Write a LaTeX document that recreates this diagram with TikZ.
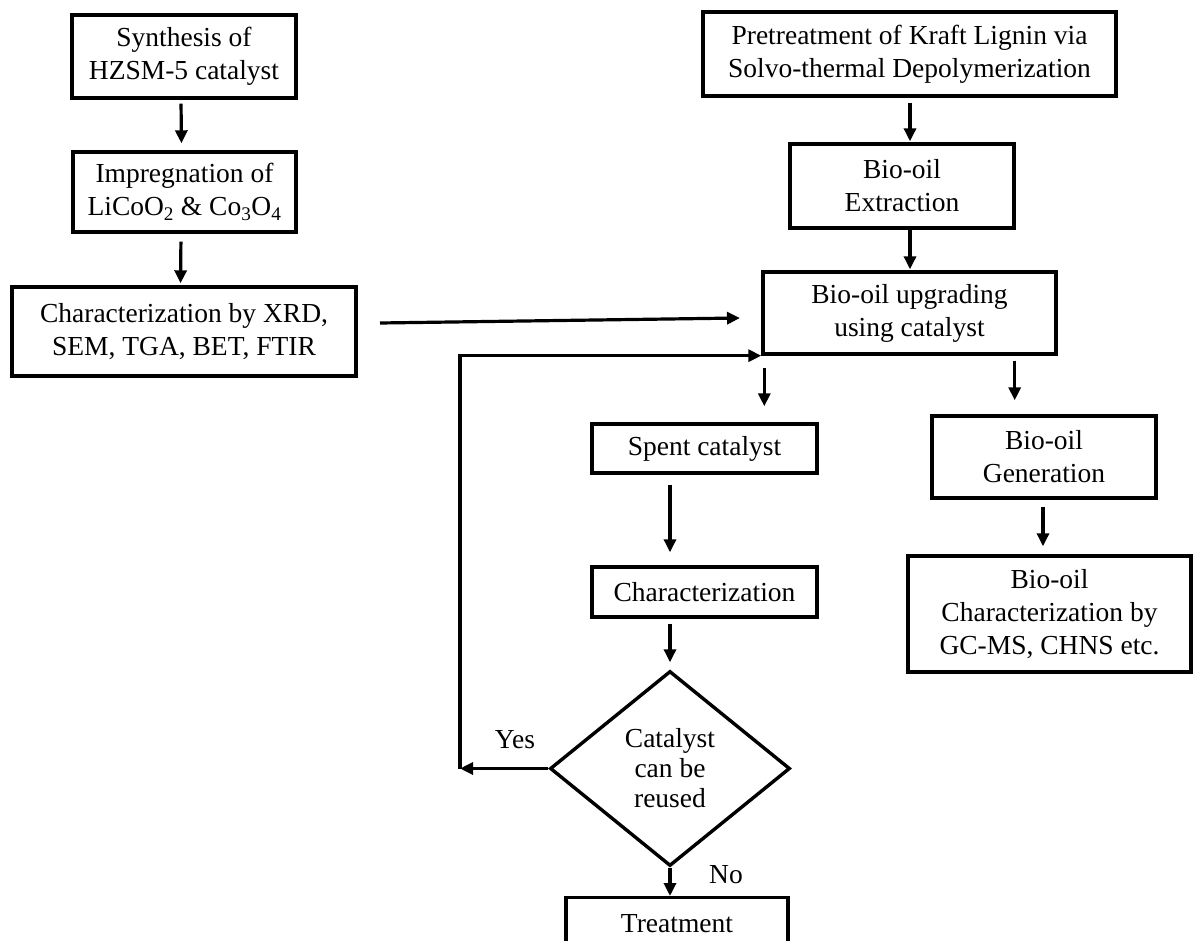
\documentclass[tikz,border=0pt]{standalone}
\usepackage{fontspec}
\setmainfont{Liberation Serif}
\usetikzlibrary{arrows.meta,shapes.geometric}
\tikzset{
  x=1pt, y=-1pt,
  box/.style={draw, line width=3.4pt, rectangle, align=center, inner sep=0pt,
    font=\fontsize{27.5}{33}\selectfont},
  dia/.style={draw, line width=3.4pt, diamond, align=center, inner sep=0pt,
    font=\fontsize{27.5}{30}\selectfont},
  lbl/.style={font=\fontsize{27.5}{33}\selectfont, inner sep=0pt},
  arr/.style={line width=3.2pt, -{Triangle[length=13pt,width=12pt]}},
}
\begin{document}
\begin{tikzpicture}
\path[use as bounding box, clip] (0,0) rectangle (1194,941);
\fill[white] (0,0) rectangle (1194,941);
% left column
\node[box, minimum width=224pt, minimum height=83pt] (b1) at (184,56.5) {Synthesis of\\HZSM-5 catalyst};
\node[box, minimum width=223pt, minimum height=80pt] (b2) at (184.5,192) {Impregnation of\\LiCoO\textsubscript{2} \& Co\textsubscript{3}O\textsubscript{4}};
\node[box, minimum width=344pt, minimum height=89pt] (b3) at (184,331.5) {Characterization by XRD,\\SEM, TGA, BET, FTIR};
% right column
\node[box, minimum width=413pt, minimum height=84pt] (p1) at (909.5,54) {Pretreatment of Kraft Lignin via\\Solvo-thermal Depolymerization};
\node[box, minimum width=224pt, minimum height=84pt] (p2) at (902,186) {Bio-oil\\Extraction};
\node[box, minimum width=293pt, minimum height=82pt] (p3) at (909.5,313) {Bio-oil upgrading\\using catalyst};
\node[box, minimum width=225pt, minimum height=49pt] (s1) at (704.5,448.5) {Spent catalyst};
\node[box, minimum width=225pt, minimum height=50pt] (s2) at (704.5,592) {Characterization};
\node[dia, minimum width=240pt, minimum height=195pt] (d) at (670,768.5) {Catalyst\\can be\\reused};
\node[box, minimum width=222pt, minimum height=52pt, anchor=north] (t) at (677,896) {Treatment};
\node[box, minimum width=224pt, minimum height=82pt] (g1) at (1044,457) {Bio-oil\\Generation};
\node[box, minimum width=283pt, minimum height=116pt] (g2) at (1049.5,614) {Bio-oil\\Characterization by\\GC-MS, CHNS etc.};
% labels
\node[lbl] (yes) at (515,740) {Yes};
\node[lbl] (no) at (726,875) {No};
% coordinates
\coordinate (xa) at (380,323);
\coordinate (xb) at (740,318);
\coordinate (yb) at (460,768.5);
\coordinate (yc) at (yb |- p3.south west);
% connectors
\draw[arr, shorten <=4pt, shorten >=7pt] ([xshift=-3pt]b1.south) -- ([xshift=-3pt]b2.north);
\draw[arr, shorten <=8pt, shorten >=2pt] ([xshift=-3.5pt]b2.south) -- ([xshift=-3.5pt]b3.north);
\draw[arr, shorten <=5pt, shorten >=1pt] ([xshift=0.5pt]p1.south) -- ([xshift=0.5pt]p1.south |- p2.north);
\draw[arr, shorten >=1pt] ([xshift=8pt]p2.south) -- ([xshift=8pt]p2.south |- p3.north);
\draw[arr] (xa) -- (xb);
\draw[arr] (d.west) -- (yb);
\draw[arr] (yb) -- (yc) -- (p3.south west);
\draw[arr, shorten <=12pt, shorten >=16pt] ([xshift=3pt]p3.south west) -- ([xshift=3pt]p3.south west |- s1.north);
\draw[arr, shorten <=5pt, shorten >=14pt] ([xshift=-43pt]p3.south east) -- ([xshift=-43pt]p3.south east |- g1.north);
\draw[arr, shorten <=10pt, shorten >=13pt] (s1.south -| d.north) -- (s2.north -| d.north);
\draw[arr, shorten <=5pt, shorten >=7pt] (s2.south -| d.north) -- (d.north);
\draw[arr] (d.south) -- (d.south |- t.north);
\draw[arr, shorten <=7pt, shorten >=8pt] ([xshift=-1pt]g1.south) -- ([xshift=-1pt]g1.south |- g2.north);
\end{tikzpicture}
\end{document}
